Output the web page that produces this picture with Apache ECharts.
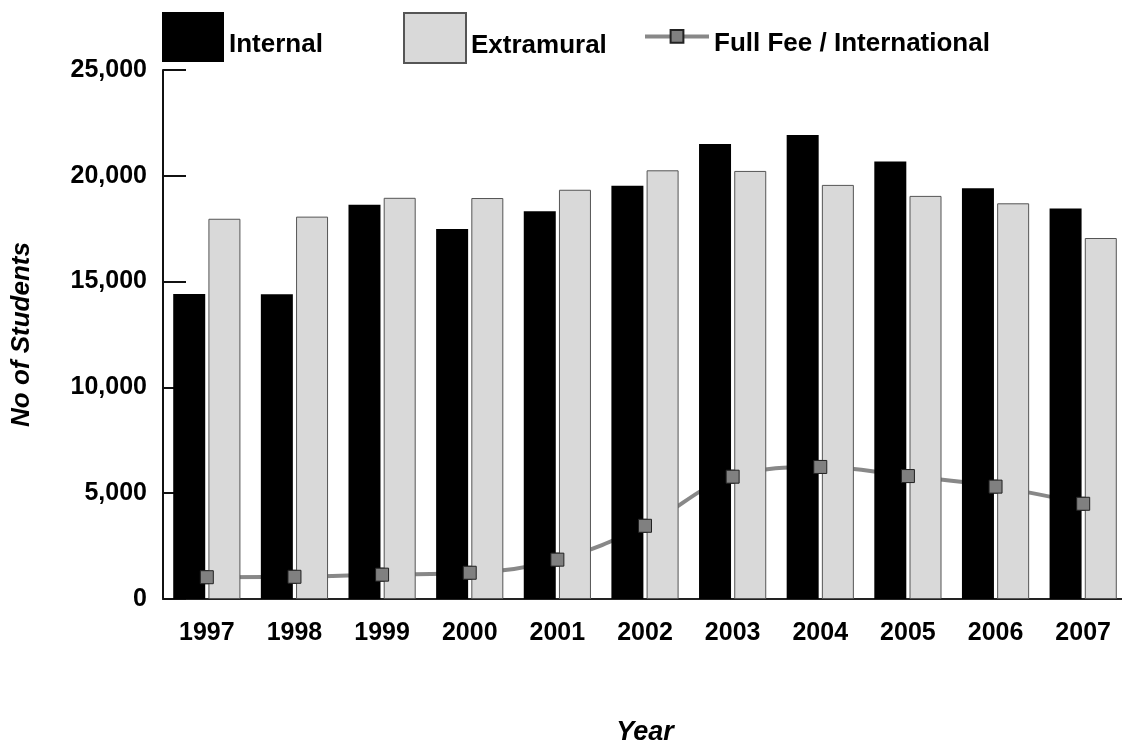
<!DOCTYPE html>
<html>
<head>
<meta charset="utf-8">
<script src="https://cdn.jsdelivr.net/npm/echarts@6/dist/echarts.min.js"></script>
<style>
html,body{margin:0;padding:0;background:#fff;}
#chart{width:1122px;height:742px;}
</style>
</head>
<body>
<div id="chart"></div>
<script>
var years = ['1997','1998','1999','2000','2001','2002','2003','2004','2005','2006','2007'];
var internal = [14410, 14400, 18630, 17490, 18320, 19530, 21500, 21930, 20670, 19410, 18460];
var extramural = [17970, 18070, 18960, 18950, 19340, 20260, 20230, 19570, 19050, 18700, 17060];
var fullFee = [1030, 1050, 1150, 1240, 1860, 3460, 5780, 6240, 5810, 5310, 4500];

var FONT = "'Liberation Sans', Arial, sans-serif";
var chart = echarts.init(document.getElementById('chart'), null, {renderer: 'canvas'});

function legendText(padTop) {
  return {
    fontFamily: FONT, fontSize: 26, fontWeight: 'bold', color: '#000',
    rich: {t: {fontFamily: FONT, fontSize: 26, fontWeight: 'bold', color: '#000', padding: [padTop, 0, 0, 0]}}
  };
}

chart.setOption({
  animation: false,
  backgroundColor: '#fff',
  textStyle: {fontFamily: FONT},
  grid: {left: 163, top: 70, width: 964, height: 529, containLabel: false, outerBoundsMode: 'none'},
  legend: [
    {data: ['Internal'], icon: 'rect', left: 162, top: 12, itemWidth: 62, itemHeight: 50, padding: 0,
      formatter: '{t|{name}}', textStyle: legendText(16)},
    {data: ['Extramural'], icon: 'rect', left: 403, top: 12, itemWidth: 62, itemHeight: 50, padding: 0,
      formatter: '{t|{name}}', textStyle: legendText(16)},
    {data: ['Full Fee / International'], left: 643, top: 29, itemWidth: 64, itemHeight: 16, padding: 0,
      formatter: '{t|{name}}', textStyle: legendText(14),
      lineStyle: {width: 4, color: '#888'}}
  ],
  xAxis: {
    type: 'category',
    data: years,
    name: 'Year',
    nameLocation: 'middle',
    nameGap: 120,
    nameTextStyle: {fontFamily: FONT, fontSize: 27, fontWeight: 'bold', fontStyle: 'italic', color: '#000'},
    axisLine: {lineStyle: {color: '#222', width: 2}},
    axisTick: {inside: true, length: 12, interval: 0, lineStyle: {color: '#222', width: 2}},
    axisLabel: {fontFamily: FONT, fontSize: 25, fontWeight: 'bold', color: '#000', margin: 22, interval: 0},
    splitLine: {show: false}
  },
  yAxis: {
    type: 'value',
    min: 0, max: 25000, interval: 5000,
    name: 'No of Students',
    nameLocation: 'middle',
    nameGap: 128,
    nameRotate: 90,
    nameTextStyle: {fontFamily: FONT, fontSize: 26, fontWeight: 'bold', fontStyle: 'italic', color: '#000'},
    axisLine: {show: true, lineStyle: {color: '#111', width: 2}},
    axisTick: {show: true, inside: true, length: 23, lineStyle: {color: '#111', width: 2}},
    axisLabel: {fontFamily: FONT, fontSize: 25, fontWeight: 'bold', color: '#000', margin: 16,
      formatter: function (v) { return String(v).replace(/\B(?=(\d{3})+(?!\d))/g, ','); }},
    splitLine: {show: false}
  },
  series: [
    {
      name: 'Internal', type: 'bar', data: internal, barWidth: 32, barGap: '10%', z: 2,
      itemStyle: {color: '#000', borderColor: '#000', borderWidth: 0}
    },
    {
      name: 'Extramural', type: 'bar', data: extramural, barWidth: 32, barGap: '10%', z: 2,
      itemStyle: {color: '#d9d9d9', borderColor: '#555', borderWidth: 1}
    },
    {
      name: 'Full Fee / International', type: 'line', data: fullFee, smooth: 0.4, z: 1,
      symbol: 'rect', symbolSize: 13, showSymbol: true,
      lineStyle: {color: '#888', width: 4},
      itemStyle: {color: '#808080', borderColor: '#222', borderWidth: 1}
    },
    {
      name: 'Full Fee markers', type: 'scatter', data: fullFee, z: 3,
      symbol: 'rect', symbolSize: 13,
      itemStyle: {color: '#808080', borderColor: '#222', borderWidth: 1, opacity: 1}
    }
  ]
});
</script>
</body>
</html>
